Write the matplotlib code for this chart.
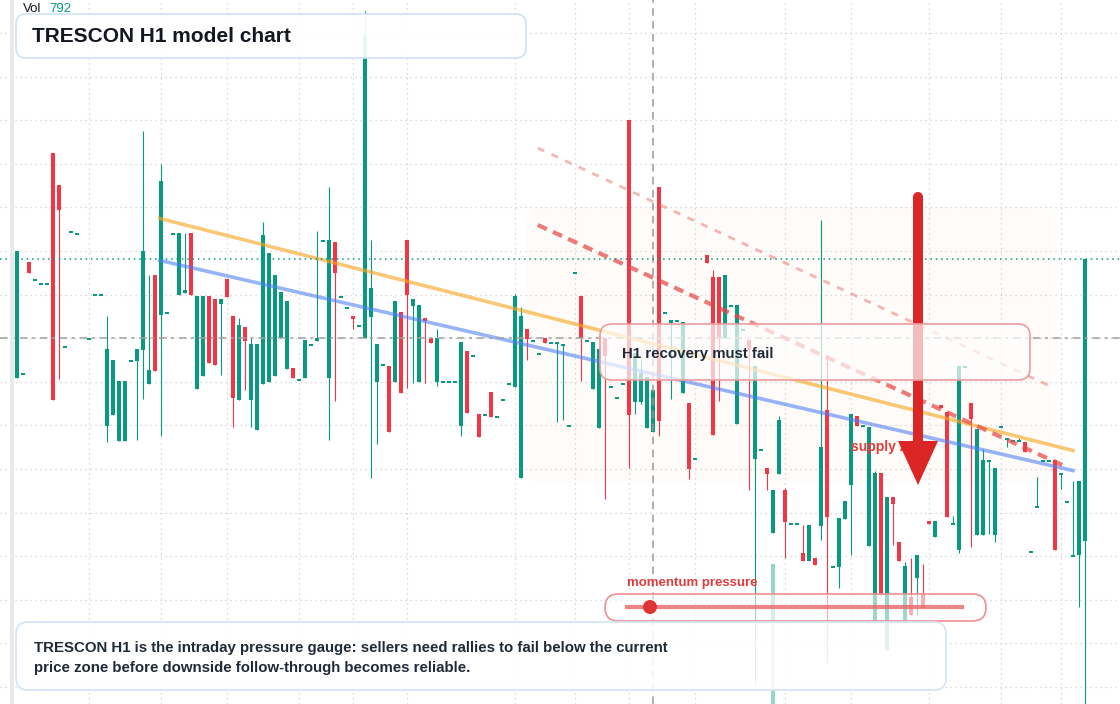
import numpy as np
import matplotlib
matplotlib.use("Agg")
import matplotlib.pyplot as plt
from matplotlib.patches import FancyBboxPatch, FancyArrow, Circle, Rectangle

plt.rcParams['font.family'] = ['Liberation Sans', 'DejaVu Sans']

nan = np.nan
# H1 candles (price units, no axis shown on the chart)
o = [62.2, 62.7, 73.8, 72.1, 71.7, 71.7, 84.7, 81.5, 65.4, 76.9,
     76.7, nan, 66.2, 70.6, 70.6, 57.4, 58.5, 55.9, 55.9, 64.0,
     63.9, 65.0, 61.6, 72.5, 68.5, 68.8, 76.7, 70.5, 70.7, 76.7,
     61.1, 62.4, 70.4, 70.1, 69.6, 72.1, 68.4, 60.0, 67.3, 60.0,
     57.0, 61.6, 61.8, 62.4, 66.2, 63.1, 63.2, 62.1, 62.2, 65.6,
     65.9, 76.0, 62.2, 75.8, 70.4, 69.3, 68.4, 67.5, 66.2, 68.3,
     61.8, 63.6, 63.4, 61.8, 68.8, 76.0, 69.4, 61.8, 68.2, 66.2,
     61.8, 61.9, 61.9, 61.9, 57.4, 64.9, 64.5, 58.6, 58.6, 60.8,
     58.4, 60.1, 61.7, 61.3, 52.2, 67.1, 66.0, 64.7, 66.2, 65.8,
     65.8, 65.6, 57.5, 72.8, 70.4, 66.0, 61.1, 57.2, 66.2, 61.4,
     60.3, 61.7, 88.0, 59.8, 59.8, 57.2, 56.8, 81.3, 68.8, 67.7,
     68.0, 60.7, 59.7, 54.2, nan, 74.5, 72.3, 72.3, 66.2, 69.5,
     57.6, 67.1, 66.0, 54.1, 55.1, 53.2, 46.7, 52.6, 51.0, 47.7,
     47.7, 44.7, 43.9, 44.2, 47.4, 59.0, 43.4, 43.3, 48.1, 51.5,
     58.4, 57.5, 45.4, 37.8, 52.7, 35.0, 50.3, 45.8, 37.8, 40.3,
     42.2, 40.5, 47.9, 46.3, 59.5, 58.8, 47.7, 45.0, 63.4, 59.7,
     46.5, 46.5, 54.0, 46.5, 57.4, 56.2, 56.0, 56.0, 55.8, 44.9,
     49.4, 54.0, 54.0, 54.0, 52.7, 49.9, 44.5, 44.5, 45.9]
h = [74.9, 62.7, 73.8, 72.1, 71.7, 71.7, 84.7, 81.5, 65.4, 76.9,
     76.7, nan, 66.2, 70.6, 70.6, 68.4, 64.0, 61.9, 61.9, 64.0,
     65.1, 86.9, 72.5, 72.5, 83.6, 68.8, 76.7, 76.7, 76.7, 76.7,
     70.4, 70.4, 70.4, 70.1, 70.1, 72.1, 68.4, 68.2, 67.3, 66.2,
     65.6, 77.8, 74.7, 72.5, 70.8, 69.9, 63.2, 62.1, 66.0, 65.6,
     76.9, 76.0, 81.3, 75.8, 70.4, 69.3, 68.4, 67.5, 98.9, 76.0,
     65.6, 63.6, 63.4, 69.9, 68.8, 76.0, 70.1, 69.5, 68.2, 66.2,
     67.1, 61.9, 61.9, 61.9, 65.8, 64.9, 64.5, 58.6, 58.6, 60.8,
     58.4, 60.1, 61.7, 70.6, 69.3, 67.1, 66.0, 64.7, 66.2, 65.8,
     65.8, 65.6, 57.5, 72.8, 70.4, 66.0, 65.8, 65.1, 66.2, 61.4,
     60.3, 61.7, 88.0, 64.7, 64.0, 62.3, 61.0, 81.3, 68.8, 68.0,
     68.0, 67.8, 59.7, 54.2, nan, 74.5, 73.0, 72.3, 72.5, 69.5,
     69.5, 67.1, 66.0, 63.4, 55.1, 53.2, 51.0, 58.4, 51.2, 47.7,
     47.7, 47.5, 47.5, 44.2, 78.0, 64.5, 43.4, 48.2, 49.9, 58.6,
     58.4, 57.5, 57.3, 52.9, 52.7, 50.3, 50.3, 45.8, 43.8, 44.2,
     44.5, 43.6, 47.9, 47.9, 59.5, 58.8, 48.4, 63.4, 63.4, 59.7,
     57.1, 55.1, 54.0, 53.2, 57.4, 56.2, 56.0, 56.2, 55.8, 44.9,
     52.3, 54.0, 54.0, 54.0, 52.7, 49.9, 51.9, 51.9, 74.1]
l = [62.2, 62.7, 72.7, 72.1, 71.7, 71.7, 60.0, 62.1, 65.4, 76.9,
     76.7, nan, 66.2, 70.6, 70.6, 55.8, 58.5, 55.9, 55.9, 64.0,
     56.0, 60.1, 61.6, 62.9, 56.4, 68.8, 76.7, 70.5, 70.7, 70.5,
     61.1, 62.4, 63.7, 63.5, 62.5, 70.3, 57.3, 60.0, 61.0, 57.3,
     57.0, 61.6, 61.8, 62.4, 66.2, 63.1, 62.2, 62.1, 62.2, 65.6,
     65.9, 76.0, 56.0, 59.9, 70.4, 69.3, 67.1, 67.5, 66.2, 52.2,
     55.6, 63.6, 56.8, 61.8, 60.7, 61.2, 61.7, 61.8, 61.7, 65.7,
     61.4, 61.9, 61.9, 61.9, 56.4, 58.7, 64.5, 56.3, 58.6, 58.3,
     58.4, 60.1, 61.7, 61.3, 52.2, 64.0, 66.0, 64.7, 65.7, 65.8,
     57.8, 58.0, 57.5, 72.8, 61.9, 66.0, 61.1, 57.2, 50.1, 61.4,
     60.3, 61.7, 53.2, 58.6, 59.6, 57.2, 56.8, 56.4, 68.8, 60.1,
     68.0, 60.7, 52.1, 54.2, nan, 73.7, 56.5, 59.9, 66.2, 69.5,
     57.6, 67.1, 51.0, 31.7, 55.1, 51.0, 46.7, 52.6, 44.2, 47.7,
     47.7, 43.9, 43.9, 43.5, 46.0, 33.7, 43.4, 41.2, 48.1, 44.5,
     57.4, 57.5, 45.4, 37.8, 40.5, 35.0, 45.5, 43.9, 37.8, 38.5,
     38.5, 39.2, 47.6, 46.3, 59.2, 48.3, 47.7, 44.7, 63.4, 45.3,
     46.5, 46.5, 46.6, 45.8, 57.4, 55.3, 56.0, 56.0, 54.8, 44.9,
     49.4, 54.0, 54.0, 45.0, 51.1, 49.9, 44.5, 39.3, 29.0]
c = [74.9, 62.7, 72.7, 72.1, 71.7, 71.7, 60.0, 79.0, 65.4, 76.9,
     76.7, nan, 66.2, 70.6, 70.6, 65.1, 64.0, 61.9, 61.9, 64.0,
     65.1, 74.9, 63.0, 62.9, 81.9, 68.8, 76.7, 76.7, 71.0, 70.5,
     70.4, 70.4, 63.7, 63.5, 70.1, 70.3, 60.2, 67.5, 65.9, 65.6,
     65.6, 76.5, 74.7, 72.5, 70.8, 69.9, 62.2, 62.1, 66.0, 65.6,
     66.2, 76.0, 76.0, 72.7, 70.4, 69.3, 68.1, 67.5, 96.5, 71.2,
     65.6, 63.6, 56.8, 69.9, 60.7, 70.5, 70.1, 69.5, 67.9, 65.7,
     66.2, 61.9, 61.9, 61.9, 65.8, 58.7, 64.5, 56.3, 58.6, 58.3,
     58.4, 60.1, 61.7, 70.4, 68.4, 66.1, 66.0, 64.7, 65.7, 65.8,
     65.8, 65.6, 57.5, 72.8, 66.2, 66.0, 65.8, 65.1, 64.4, 61.4,
     60.3, 61.7, 58.5, 64.7, 62.7, 62.3, 61.0, 57.9, 68.8, 68.0,
     68.0, 67.8, 53.1, 54.2, nan, 73.7, 56.5, 66.2, 72.5, 69.5,
     69.5, 67.1, 65.0, 63.4, 55.1, 52.6, 51.0, 58.0, 47.8, 47.7,
     47.7, 43.9, 47.5, 43.5, 55.3, 48.3, 43.4, 48.2, 49.9, 58.6,
     57.4, 57.5, 57.3, 52.7, 40.5, 50.3, 49.6, 43.9, 43.4, 38.5,
     44.5, 39.2, 47.6, 47.9, 59.2, 48.3, 47.7, 63.4, 63.4, 58.1,
     57.1, 54.0, 54.0, 53.2, 57.4, 56.2, 56.0, 56.0, 54.8, 44.9,
     49.4, 54.0, 54.0, 45.0, 52.7, 49.9, 44.5, 51.9, 74.1]

day_starts = [12, 24, 35, 47, 56, 65, 83, 93, 102, 113, 128, 139, 152, 164, 174]
vol_spike_idx = [126]
vol_spike_top = [43.6]

resist_x, resist_y = [23.5, 176.3], [78.2, 54.9]
support_x, support_y = [23.5, 176.3], [74.0, 52.9]
supply_top_x, supply_top_y = [86.8, 172.5], [85.2, 61.3]
supply_bot_x, supply_bot_y = [86.8, 174.2], [77.5, 53.5]
zone_x, zone_y = [85.0, 172.3], [51.7, 79.3]
cross_i, cross_p = 106, 66.2
vol_value = 792

o, h, l, c = (np.array(a, dtype=float) for a in (o, h, l, c))
idx = np.arange(len(o))
green, red = '#089981', '#F23645'
up = c >= o
cols = np.where(up, green, red)
ok = ~np.isnan(o)

W, H = 1120, 704
fig = plt.figure(figsize=(W / 100, H / 100), dpi=100)
ax = fig.add_axes([0, 0, 1, 1], zorder=1)
ax.set_xlim(-17 / 6, (W - 17) / 6)
ax.set_ylim(29.6, 100)

# grid
ax.set_xticks(day_starts)
ax.set_yticks(np.arange(96.7, 29.0, -4.36))
ax.grid(True, color='#cfcfcf', lw=0.9, ls=(0, (1, 3)))
ax.tick_params(length=0, labelbottom=False, labelleft=False)
for s in ax.spines.values():
    s.set_visible(False)

# shaded supply area
ax.add_patch(FancyBboxPatch((zone_x[0], zone_y[0]), zone_x[1] - zone_x[0], zone_y[1] - zone_y[0],
                            boxstyle='round,pad=0,rounding_size=2.5', mutation_aspect=0.6,
                            fc='#f7dcc4', ec='none', alpha=0.1, zorder=0.5))

# candles
ax.vlines(idx[ok], l[ok], h[ok], colors=cols[ok], lw=0.8, zorder=2)
body_lo = np.minimum(o, c)
body_h = np.abs(c - o)
small = body_h < 0.2
body_lo = np.where(small, np.maximum(o, c) - 0.2, body_lo)
body_h = np.where(small, 0.2, body_h)
ax.bar(idx[ok], body_h[ok], bottom=body_lo[ok], width=0.78, color=cols[ok], zorder=2.1)
ax.bar(vol_spike_idx, np.array(vol_spike_top) - 29.0, bottom=29.0, width=0.78,
       color=green, alpha=0.42, zorder=1.9)

# trend lines
ax.plot(resist_x, resist_y, color='#f6a623', alpha=0.62, lw=2.6, solid_capstyle='butt', zorder=3)
ax.plot(support_x, support_y, color='#4d7ef2', alpha=0.58, lw=2.6, solid_capstyle='butt', zorder=3)
ax.plot(supply_bot_x, supply_bot_y, color='#e54848', alpha=0.72, lw=3, ls=(0, (2.4, 1.6)), zorder=3)
ax.plot(supply_top_x, supply_top_y, color='#ee7b7b', alpha=0.55, lw=2, ls=(0, (2.6, 2.8)), zorder=3)

# crosshair and last price
ax.axvline(cross_i, color='#9a9a9a', lw=1.1, ls=(0, (5, 3.5)), zorder=3.5)
ax.axhline(cross_p, color='#a0a0a0', lw=1.1, ls=(0, (5, 3, 2, 3)), zorder=3.5)
ax.axhline(c[-1], color=green, lw=1.1, ls=(0, (1, 2.5)), zorder=3.5)

# overlay in pixel units
ov = fig.add_axes([0, 0, 1, 1], zorder=2)
ov.set_xlim(0, W)
ov.set_ylim(H, 0)
ov.axis('off')
ov.patch.set_alpha(0)

ov.add_patch(Rectangle((10, 0), 4, H, fc='#e9e9e9', ec='none', zorder=1))

ov.text(851, 447, 'supply zone', color='#e23c3c', fontsize=10, fontweight='bold',
        va='center', ha='left', zorder=1)
ov.add_patch(FancyArrow(918, 197, 0, 288, width=10, head_width=40, head_length=44,
                        length_includes_head=True, fc='#dc2626', ec='none', zorder=2))
ov.add_patch(Circle((918, 197), 5, fc='#dc2626', ec='none', zorder=2))

def box(x, y, w, hh, fc_alpha, ec, r, z=3):
    ov.add_patch(FancyBboxPatch((x, y), w, hh, boxstyle=f'round,pad=0,rounding_size={r}',
                                fc=(1, 1, 1, fc_alpha), ec=ec, lw=1.2, zorder=z))

# callout
box(600, 324, 430, 56, 0.7, '#ec9c9c', 12)
ov.text(622, 354, 'H1 recovery must fail', fontsize=10.8, fontweight='bold',
        color='#1f2937', va='center', zorder=4)

# title
box(16, 14, 510, 44, 0.92, '#cfe0f8', 10)
ov.text(32, 37, 'TRESCON H1 model chart', fontsize=15, fontweight='bold',
        color='#131722', va='center', zorder=4)
ov.text(23, 9, 'Vol', fontsize=9.5, color='#131722', va='center', zorder=4)
ov.text(49, 9, str(vol_value), fontsize=9.5, color=green, va='center', zorder=4)

# momentum gauge
box(605, 594, 381, 27, 0.6, '#ef8f8f', 13.5)
ov.plot([627, 962], [607, 607], color='#e86767', lw=3, alpha=0.8, zorder=4)
ov.add_patch(Circle((650, 607), 7, fc='#e03434', ec='none', zorder=5))
ov.text(627, 583, 'momentum pressure', fontsize=9.5, fontweight='bold',
        color='#e03b3b', va='center', zorder=4)

# description
box(16, 622, 930, 68, 0.88, '#d4e3f8', 12)
ov.text(34, 648, 'TRESCON H1 is the intraday pressure gauge: sellers need rallies to fail below the current',
        fontsize=10.8, fontweight='bold', color='#1f2937', va='center', zorder=4)
ov.text(34, 668, 'price zone before downside follow-through becomes reliable.',
        fontsize=10.8, fontweight='bold', color='#1f2937', va='center', zorder=4)

fig.savefig('out.png', dpi=100, facecolor='white')
